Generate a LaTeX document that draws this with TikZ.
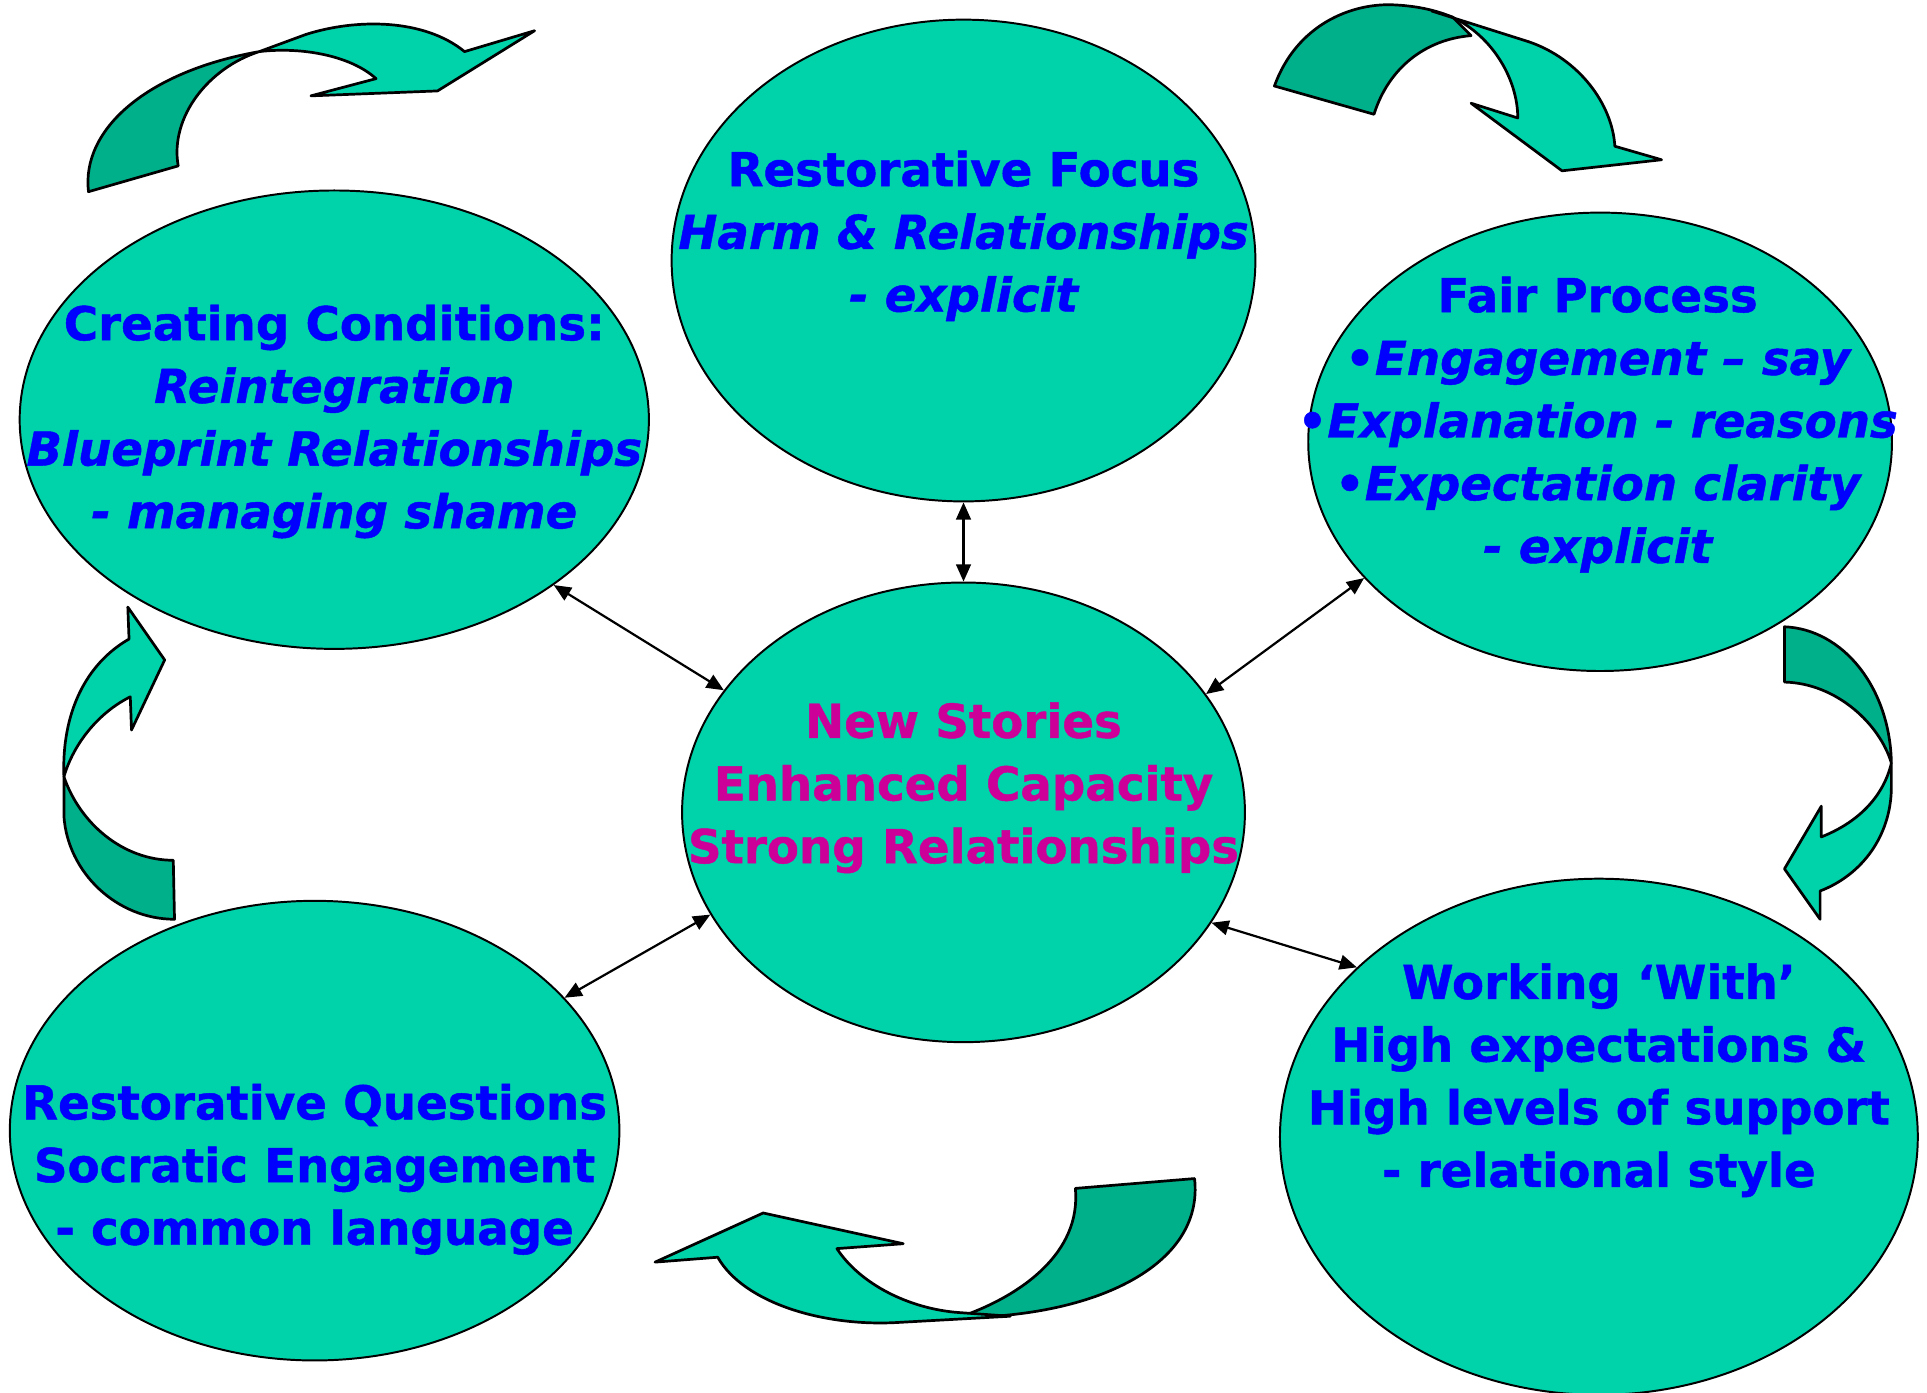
\documentclass[tikz,border=0pt]{standalone}
\usepackage{fontspec}
\setmainfont{DejaVu Sans}[BoldFont={DejaVu Sans Bold},ItalicFont={DejaVu Sans Oblique},BoldItalicFont={DejaVu Sans Bold Oblique},BoldFeatures={FakeBold=1},BoldItalicFeatures={FakeBold=1}]
\usetikzlibrary{shapes.geometric,arrows.meta}
\definecolor{tealA}{RGB}{0,210,170}
\definecolor{tealB}{RGB}{0,176,138}
\definecolor{txtblue}{RGB}{0,0,255}
\definecolor{txtmag}{RGB}{204,0,153}
\begin{document}
\begin{tikzpicture}[x=0.5pt,y=-0.5pt,
  bubble/.style={ellipse,draw=black,line width=0.8pt,fill=tealA,inner sep=0pt},
  lbl/.style={align=center,text=txtblue,font=\fontsize{19}{25.5}\selectfont\bfseries,inner sep=0pt},
  rlight/.style={fill=tealA,draw=black,line width=1.1pt,line join=round},
  rdark/.style={fill=tealB,draw=black,line width=1.1pt,line join=round},
  link/.style={line width=0.9pt,{Triangle[length=7pt,width=6pt]}-{Triangle[length=7pt,width=6pt]}}]
\useasboundingbox (0,0) rectangle (1568,1133);

% curved ribbon arrows
% top-left
\path[rdark] (72,156) .. controls (66,105) and (120,58) .. (211,42) .. controls (170,55) and (138,95) .. (145,135) -- cycle;
\path[rlight] (211,42) -- (249,28) .. controls (290,15) and (345,15) .. (378,42) -- (435,25) -- (356,74) -- (253,78) -- (306,64) .. controls (285,45) and (245,38) .. (211,42) -- cycle;
% top-right
\path[rdark] (1037,70) .. controls (1055,20) and (1100,2) .. (1135,4) .. controls (1155,5) and (1170,9) .. (1182,14) -- (1197,29) .. controls (1160,32) and (1130,55) .. (1118,93) -- cycle;
\path[rlight] (1165,9) -- (1244,34) .. controls (1285,48) and (1312,85) .. (1314,119) -- (1352,130) -- (1271,139) -- (1197,84) -- (1235,96) .. controls (1235,65) and (1215,30) .. (1182,14) -- cycle;
% right
\path[rdark] (1452,510) .. controls (1500,512) and (1538,560) .. (1539,621) .. controls (1530,590) and (1495,556) .. (1452,555) -- cycle;
\path[rlight] (1539,621) -- (1539,640) .. controls (1539,680) and (1515,712) .. (1481,725) -- (1481,748) -- (1452,707) -- (1482,656) -- (1482,681) .. controls (1510,670) and (1532,650) .. (1539,621) -- cycle;
% left
\path[rdark] (52,632) -- (52,664) .. controls (55,710) and (95,748) .. (142,748) -- (141,700) .. controls (100,700) and (65,670) .. (52,632) -- cycle;
\path[rlight] (52,632) .. controls (50,580) and (70,540) .. (105,520) -- (104,494) -- (134,537) -- (107,594) -- (106,567) .. controls (80,580) and (60,605) .. (52,632) -- cycle;
% bottom
\path[rdark] (875,967) -- (972,959) .. controls (980,1030) and (890,1072) .. (780,1072) .. controls (830,1055) and (880,1020) .. (875,967) -- cycle;
\path[rlight] (822,1071) -- (732,1076) .. controls (670,1080) and (605,1060) .. (584,1023) -- (533,1027) -- (621,987) -- (735,1012) -- (681,1016) .. controls (700,1045) and (740,1065) .. (780,1068) -- cycle;

% ellipses
\node[bubble,minimum width=237.5pt,minimum height=196pt] (focus) at (784,212) {};
\node[bubble,minimum width=256pt,minimum height=186.5pt] (cond) at (272,341.5) {};
\node[bubble,minimum width=237.5pt,minimum height=186.5pt] (fair) at (1302,359.5) {};
\node[bubble,minimum width=229pt,minimum height=187pt] (hub) at (784,661) {};
\node[bubble,minimum width=248pt,minimum height=187pt] (quest) at (256,920) {};
\node[bubble,minimum width=259.5pt,minimum height=210pt] (work) at (1301,925) {};

% texts
\node[lbl] (tfocus) at (784,192) {Restorative Focus\\\itshape Harm \& Relationships\\\itshape - explicit};
\node[lbl] (tcond) at (272,343) {Creating Conditions:\\\itshape Reintegration\\\itshape Blueprint Relationships\\\itshape - managing shame};
\node[lbl] (tfair) at (1300,345.5) {Fair Process\\{\upshape •}\itshape Engagement -- say\\{\upshape •}\itshape Explanation - reasons\\{\upshape •}\itshape Expectation clarity\\\itshape - explicit};
\node[lbl,text=txtmag] (thub) at (784,641) {New Stories\\Enhanced Capacity\\Strong Relationships};
\node[lbl] (tquest) at (256,951.5) {Restorative Questions\\Socratic Engagement\\- common language};
\node[lbl] (twork) at (1301,879) {Working ‘With’\\High expectations \&\\High levels of support\\- relational style};

% connectors
\draw[link] (focus.-90) -- (hub.90);
\draw[link] (cond.-37) -- (hub.153.4);
\draw[link] (fair.210.5) -- (hub.26.3);
\draw[link] (hub.202.4) -- (quest.28.7);
\draw[link] (hub.-24) -- (work.145);
\end{tikzpicture}
\end{document}
